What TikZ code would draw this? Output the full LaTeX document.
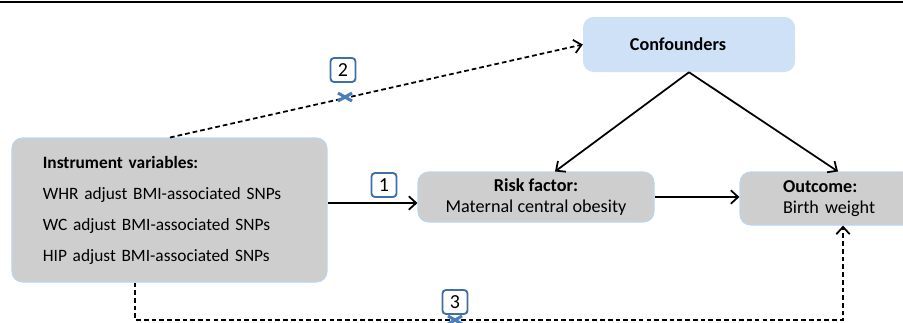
\documentclass[tikz,border=0pt]{standalone}
\usepackage{fontspec}
\setmainfont{Carlito}
\usetikzlibrary{arrows.meta}
\definecolor{confblue}{HTML}{CFE1F6}
\definecolor{boxgray}{HTML}{CECECE}
\definecolor{edgeblue}{HTML}{BDD5EE}
\definecolor{numblue}{HTML}{3E6FA6}
\definecolor{crossblue}{HTML}{4A7EBB}
\begin{document}
\begin{tikzpicture}[x=0.03cm,y=-0.03cm,
  every node/.style={font=\fontsize{15.5}{18.5}\selectfont},
  graybox/.style={draw=edgeblue,line width=0.9pt,fill=boxgray,rounded corners=9pt,inner sep=0pt},
  confbox/.style={fill=confblue,rounded corners=9pt,inner sep=0pt},
  numbox/.style={draw=numblue,line width=1.6pt,fill=white,rounded corners=3pt,minimum width=0.75cm,minimum height=0.72cm,inner sep=0pt,font=\fontsize{17}{20}\selectfont},
  arr/.style={line width=1.5pt,-{Straight Barb[length=2.2mm,width=4mm]}},
  dasharr/.style={arr,dash pattern=on 4pt off 2.6pt},
  crossmark/.style={crossblue,line width=2.6pt}]
\useasboundingbox (0,0) rectangle (903,322);
\clip (0,0) rectangle (903,322);
\draw [black,line width=1.8pt] (0,2) -- (903,2);
\node [confbox,minimum width=6.36cm,minimum height=1.65cm] (conf) at (689,44.5) {\hspace*{-0.66cm}\textbf{Confounders}};
\node [graybox,minimum width=9.45cm,minimum height=4.32cm,text width=7.6cm,align=left,font=\fontsize{14.8}{26.5}\selectfont] (iv) at (169.5,210) {\textbf{Instrument variables:}\\WHR adjust BMI-associated SNPs\\WC adjust BMI-associated SNPs\\HIP adjust BMI-associated SNPs};
\node [graybox,minimum width=7.08cm,minimum height=1.5cm,align=center] (risk) at (536,197) {\textbf{Risk factor:}\\Maternal central obesity};
\node [graybox,minimum width=5.88cm,minimum height=1.59cm,text width=3.3cm,align=left,inner xsep=1.29cm] (outcome) at (838,198.5) {\textbf{Outcome:}\\Birth weight};
\draw [arr] (iv.east |- 0,203) -- (risk.west |- 0,203);
\draw [arr] (risk.east) -- (outcome.west |- risk.east);
\draw [arr] (conf.south) -- (risk.north -| 555,0);
\draw [arr] (conf.south) -- (outcome.north);
\draw [dasharr] (iv.north -| 170,0) -- (conf.west);
\draw [dasharr] (iv.south -| 135,0) -- (135,320) -| (outcome.south -| 843,0);
\node [numbox] (n1) at (384,185) {1};
\node [numbox] (n2) at (343,70) {2};
\draw [crossmark] (338,93) -- (352,101) (338,101) -- (352,93);
\draw [crossmark] (448,316) -- (462,324) (448,324) -- (462,316);
\node [numbox] (n3) at (455,302) {3};
\end{tikzpicture}
\end{document}
